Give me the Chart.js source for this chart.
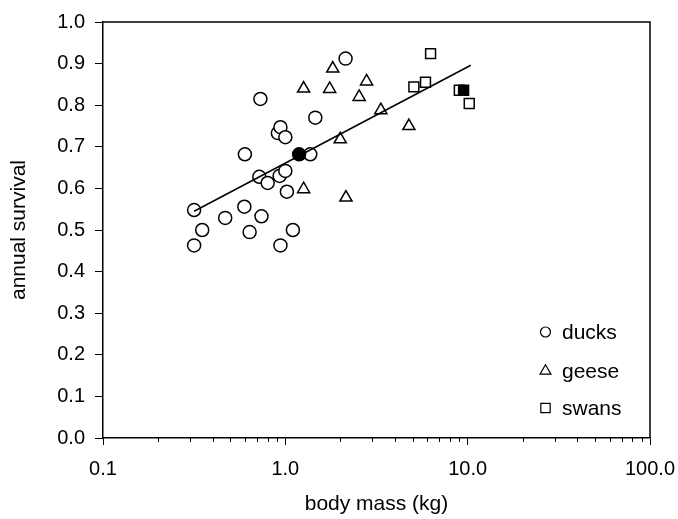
<!DOCTYPE html>
<html>
<head>
<meta charset="utf-8">
<script src="https://cdn.jsdelivr.net/npm/chart.js@4/dist/chart.umd.min.js"></script>
<style>
  html, body { margin: 0; padding: 0; background: #fff; }
  canvas { display: block; }
</style>
</head>
<body>
<canvas id="survivalChart" width="678" height="519"></canvas>
<script>
// body mass (kg) and annual survival
const duckMass = [0.316, 0.316, 0.35, 0.468, 0.596, 0.60, 0.637, 0.72, 0.73, 0.74, 0.80,
                  0.91, 0.94, 0.93, 0.94, 1.0, 1.0, 1.02, 1.10, 1.37, 1.46, 2.14];
const duckSurv = [0.548, 0.463, 0.50, 0.529, 0.556, 0.682, 0.495, 0.628, 0.815, 0.533, 0.613,
                  0.733, 0.747, 0.63, 0.463, 0.723, 0.642, 0.592, 0.50, 0.682, 0.77, 0.912];
const duckMeanMass = [1.19];
const duckMeanSurv = [0.682];

const gooseMass = [1.26, 1.26, 1.75, 1.82, 2.0, 2.15, 2.54, 2.79, 3.34, 4.76];
const gooseSurv = [0.84, 0.598, 0.839, 0.888, 0.718, 0.578, 0.82, 0.857, 0.788, 0.75];

const swanMass = [5.07, 5.87, 6.26, 9.0, 10.2];
const swanSurv = [0.844, 0.855, 0.924, 0.836, 0.804];
const swanMeanMass = [9.5];
const swanMeanSurv = [0.836];

const fitMass = [0.316, 10.4];
const fitSurv = [0.545, 0.896];

const xTicks = [0.1, 0.2, 0.3, 0.4, 0.5, 0.6, 0.7, 0.8, 0.9,
                1, 2, 3, 4, 5, 6, 7, 8, 9,
                10, 20, 30, 40, 50, 60, 70, 80, 90, 100];
const xLabels = { 0.1: '0.1', 1: '1.0', 10: '10.0', 100: '100.0' };

const legendItems = [
    { text: 'ducks', style: 'circle', radius: 5 },
    { text: 'geese', style: 'triangle', radius: 6.3 },
    { text: 'swans', style: 'rect', radius: 6.6 }
];

const FONT = 'Liberation Sans, Arial, sans-serif';

function pts(xs, ys) {
    return xs.map((x, i) => ({ x: x, y: ys[i] }));
}

function markers(label, xs, ys, style, radius, fill) {
    return {
        type: 'scatter',
        label: label,
        data: pts(xs, ys),
        pointStyle: style,
        pointRadius: radius,
        pointHoverRadius: radius,
        pointBackgroundColor: fill,
        pointBorderColor: '#000',
        pointBorderWidth: 1.5
    };
}

const isMajor = v => xLabels[v] !== undefined;

// frame, minor ticks and the legend box in the lower right
const extrasPlugin = {
    id: 'extras',
    afterDraw(chart) {
        const ctx = chart.ctx;
        const a = chart.chartArea;
        const xs = chart.scales.x;
        ctx.save();
        ctx.strokeStyle = '#000';
        ctx.lineWidth = 1.5;
        ctx.beginPath();
        ctx.moveTo(a.left, a.top);
        ctx.lineTo(a.right, a.top);
        ctx.lineTo(a.right, a.bottom);
        ctx.stroke();

        ctx.lineWidth = 1;
        ctx.beginPath();
        xs.ticks.forEach(t => {
            if (isMajor(t.value)) return;
            const px = Math.round(xs.getPixelForValue(t.value)) + 0.5;
            ctx.moveTo(px, a.bottom);
            ctx.lineTo(px, a.bottom + 4);
        });
        ctx.stroke();

        ctx.font = '21px ' + FONT;
        ctx.textBaseline = 'middle';
        ctx.textAlign = 'left';
        const lx = a.right - 104.5;
        const rows = [a.bottom - 106, a.bottom - 67, a.bottom - 30];
        legendItems.forEach((item, i) => {
            ctx.fillStyle = '#fff';
            ctx.strokeStyle = '#000';
            ctx.lineWidth = 1.2;
            Chart.helpers.drawPoint(ctx, { pointStyle: item.style, radius: item.radius, rotation: 0, borderWidth: 1.2 }, lx, rows[i]);
            ctx.fillStyle = '#000';
            ctx.fillText(item.text, lx + 16.5, rows[i] + 1);
        });
        ctx.restore();
    }
};

new Chart(document.getElementById('survivalChart'), {
    type: 'scatter',
    data: {
        datasets: [
            {
                type: 'line',
                label: 'fit',
                data: pts(fitMass, fitSurv),
                borderColor: '#000',
                borderWidth: 1.5,
                pointRadius: 0,
                fill: false
            },
            markers('ducks mean', duckMeanMass, duckMeanSurv, 'circle', 6.5, '#000'),
            markers('swans mean', swanMeanMass, swanMeanSurv, 'rect', 7, '#000'),
            markers('ducks', duckMass, duckSurv, 'circle', 6.5, '#fff'),
            markers('geese', gooseMass, gooseSurv, 'triangle', 7, '#fff'),
            markers('swans', swanMass, swanSurv, 'rect', 7, '#fff')
        ]
    },
    options: {
        responsive: false,
        animation: false,
        layout: { padding: { top: 22, right: 28, bottom: 0, left: 0 } },
        plugins: {
            legend: { display: false },
            tooltip: { enabled: false }
        },
        scales: {
            x: {
                type: 'logarithmic',
                min: 0.1,
                max: 100,
                afterBuildTicks: scale => { scale.ticks = xTicks.map(v => ({ value: v, major: isMajor(v) })); },
                afterFit: scale => {
                    scale.height = 81;
                    scale.paddingLeft = 0;
                    scale.paddingRight = 0;
                },
                ticks: {
                    autoSkip: false,
                    maxRotation: 0,
                    padding: 12,
                    color: '#000',
                    font: { family: FONT, size: 20 },
                    callback: v => xLabels[v] || ''
                },
                grid: {
                    drawOnChartArea: false,
                    drawTicks: true,
                    tickLength: 7,
                    tickWidth: 1,
                    tickColor: c => (c.tick && isMajor(c.tick.value)) ? '#000' : 'rgba(0,0,0,0)'
                },
                border: { display: true, color: '#000', width: 1.5 },
                title: {
                    display: true,
                    text: 'body mass (kg)',
                    color: '#000',
                    font: { family: FONT, size: 21 },
                    padding: { top: 0, bottom: 2 }
                }
            },
            y: {
                min: 0,
                max: 1,
                afterFit: scale => { scale.width = 103; },
                ticks: {
                    stepSize: 0.1,
                    padding: 10,
                    color: '#000',
                    font: { family: FONT, size: 20 },
                    callback: v => v.toFixed(1)
                },
                grid: {
                    drawOnChartArea: false,
                    drawTicks: true,
                    tickLength: 8,
                    tickWidth: 1,
                    tickColor: '#000'
                },
                border: { display: true, color: '#000', width: 1.5 },
                title: {
                    display: true,
                    text: 'annual survival',
                    color: '#000',
                    font: { family: FONT, size: 21 },
                    padding: { top: 7, bottom: 0 }
                }
            }
        }
    },
    plugins: [extrasPlugin]
});
</script>
</body>
</html>
